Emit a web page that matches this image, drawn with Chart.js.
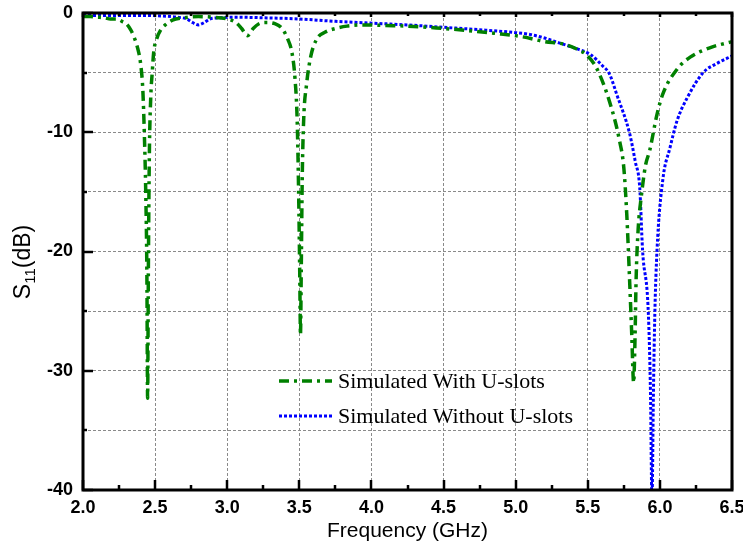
<!DOCTYPE html>
<html>
<head>
<meta charset="utf-8">
<script src="https://cdn.jsdelivr.net/npm/chart.js@4.4.0/dist/chart.umd.min.js"></script>
<style>
  html, body { margin: 0; padding: 0; background: #fff; }
</style>
</head>
<body>
<canvas id="chart" width="743" height="548"></canvas>
<script>
// S11 data
const seriesLabels = ["Simulated With U-slots", "Simulated Without U-slots"];

const freqWith = [2.00, 2.05, 2.10, 2.15, 2.19, 2.23, 2.27, 2.30, 2.33, 2.35, 2.38, 2.40, 2.415, 2.425,
  2.435, 2.443, 2.448, 2.453, 2.46, 2.47, 2.48, 2.49, 2.51, 2.54, 2.57, 2.62, 2.70, 2.80, 2.90, 3.00,
  3.06, 3.10, 3.14, 3.18, 3.22, 3.27, 3.33, 3.38, 3.42, 3.45, 3.47, 3.485, 3.495, 3.503, 3.508, 3.513,
  3.52, 3.53, 3.55, 3.58, 3.62, 3.68, 3.75, 3.83, 3.95, 4.10, 4.25, 4.45, 4.65, 4.85, 5.05, 5.20, 5.33,
  5.42, 5.49, 5.56, 5.65, 5.72, 5.75, 5.77, 5.79, 5.805, 5.818, 5.828, 5.835, 5.85, 5.87, 5.90, 5.93,
  5.98, 6.02, 6.12, 6.21, 6.35, 6.50];
const s11With = [-0.3, -0.3, -0.35, -0.4, -0.5, -0.5, -0.7, -0.9, -1.4, -1.9, -3.0, -4.3, -6.5, -10,
  -15, -22, -32.3, -22, -12, -7, -5, -3.3, -2.2, -1.4, -1.0, -0.6, -0.4, -0.3, -0.35, -0.5,
  -0.8, -1.3, -1.9, -1.3, -0.9, -0.8, -0.9, -1.3, -2.2, -3.4, -5.5, -9, -15, -22, -27, -22,
  -14, -9, -6, -3.6, -2.2, -1.6, -1.3, -1.1, -1.0, -1.05, -1.1, -1.25, -1.45, -1.7, -2.0, -2.4, -2.6,
  -3.0, -3.5, -4.6, -7.4, -10.7, -13, -16.8, -22.4, -27, -31, -27, -22.4, -18, -15.5, -12.8, -11.5,
  -8.5, -6.8, -4.7, -3.7, -2.9, -2.4];

const freqWithout = [2.00, 2.20, 2.40, 2.55, 2.65, 2.72, 2.76, 2.80, 2.84, 2.88, 2.95, 3.05, 3.25, 3.50,
  3.75, 4.00, 4.25, 4.50, 4.75, 5.00, 5.10, 5.20, 5.30, 5.40, 5.52, 5.60, 5.65, 5.70, 5.79, 5.83, 5.86,
  5.88, 5.92, 5.935, 5.945, 5.955, 5.965, 5.98, 6.02, 6.07, 6.12, 6.19, 6.30, 6.40, 6.50];
const s11Without = [-0.2, -0.2, -0.2, -0.25, -0.35, -0.5, -0.8, -1.0, -0.8, -0.5, -0.4, -0.35, -0.4, -0.5,
  -0.7, -0.85, -1.0, -1.2, -1.4, -1.65, -1.8, -2.1, -2.5, -2.9, -3.5, -4.4, -5.1, -6.8, -10.1, -12.5, -14.6,
  -19.9, -25.2, -32, -41, -32, -25.2, -19.9, -14, -11.3, -9, -7.1, -5.0, -4.2, -3.6];

const xMin = 2.0, xMax = 6.5, xStep = 0.5, xMinorStep = 0.25;
const yMin = -40, yMax = 0, yStep = 5, yLabelStep = 10;

const toPoints = (xs, ys) => xs.map((x, i) => ({ x: x, y: ys[i] }));

// frame, inward ticks, y title with subscript and the inset legend
const decorations = {
  id: "decorations",
  afterDraw(chart) {
    const ctx = chart.ctx;
    const a = chart.chartArea;
    const xs = chart.scales.x, ys = chart.scales.y;
    ctx.save();
    ctx.strokeStyle = "#000";
    ctx.lineWidth = 3;
    ctx.setLineDash([]);
    ctx.strokeRect(a.left, a.top, a.right - a.left, a.bottom - a.top);

    ctx.lineWidth = 2.5;
    for (let v = xMin; v <= xMax + 1e-9; v += xMinorStep) {
      const px = Math.round(xs.getPixelForValue(v));
      const major = Math.abs(v / xStep - Math.round(v / xStep)) < 1e-6;
      ctx.beginPath();
      ctx.moveTo(px, a.bottom);
      ctx.lineTo(px, a.bottom - (major ? 10 : 5));
      ctx.moveTo(px, a.top);
      ctx.lineTo(px, a.top + (major ? 4 : 3));
      ctx.stroke();
    }
    for (let v = yMin; v <= yMax; v += yStep) {
      const py = Math.round(ys.getPixelForValue(v));
      const major = v % yLabelStep === 0;
      ctx.beginPath();
      ctx.moveTo(a.left, py);
      ctx.lineTo(a.left + (major ? 10 : 4), py);
      ctx.stroke();
    }

    // y-axis title: S11(dB), 11 as subscript
    ctx.fillStyle = "#000";
    ctx.translate(24, 262);
    ctx.rotate(-Math.PI / 2);
    ctx.textBaseline = "middle";
    const big = "23px 'Liberation Sans', Arial, sans-serif";
    const small = "15px 'Liberation Sans', Arial, sans-serif";
    ctx.font = big;
    const wS = ctx.measureText("S").width;
    const wP = ctx.measureText("(dB)").width;
    ctx.font = small;
    const w11 = ctx.measureText("11").width;
    let x0 = -(wS + w11 + wP) / 2;
    ctx.font = big;
    ctx.fillText("S", x0, 0);
    ctx.font = small;
    ctx.fillText("11", x0 + wS, 7);
    ctx.font = big;
    ctx.fillText("(dB)", x0 + wS + w11, 0);
    ctx.restore();

    // legend
    ctx.save();
    const rows = [381, 416];
    chart.data.datasets.forEach((ds, i) => {
      ctx.strokeStyle = ds.borderColor;
      ctx.lineWidth = ds.borderWidth;
      ctx.setLineDash(ds.borderDash);
      ctx.beginPath();
      ctx.moveTo(279, rows[i]);
      ctx.lineTo(332, rows[i]);
      ctx.stroke();
      ctx.setLineDash([]);
      ctx.fillStyle = "#000";
      ctx.font = "22px 'Liberation Serif', 'Times New Roman', serif";
      ctx.textBaseline = "middle";
      ctx.fillText(ds.label, 338, rows[i] + 1);
    });
    ctx.restore();
  }
};

new Chart(document.getElementById("chart"), {
  type: "line",
  data: {
    datasets: [
      {
        label: seriesLabels[0],
        data: toPoints(freqWith, s11With),
        borderColor: "#008000",
        borderWidth: 3.5,
        borderDash: [10, 5, 3, 5],
        pointRadius: 0,
        cubicInterpolationMode: "monotone",
        fill: false
      },
      {
        label: seriesLabels[1],
        data: toPoints(freqWithout, s11Without),
        borderColor: "#0000ff",
        borderWidth: 3,
        borderDash: [3, 2],
        pointRadius: 0,
        cubicInterpolationMode: "monotone",
        fill: false
      }
    ]
  },
  options: {
    responsive: false,
    devicePixelRatio: 1,
    animation: false,
    layout: { padding: { top: 13, right: 11, left: 0, bottom: 0 } },
    plugins: { legend: { display: false }, tooltip: { enabled: false } },
    scales: {
      x: {
        type: "linear",
        min: xMin,
        max: xMax,
        grid: { color: "#8a8a8a", lineWidth: 1, drawTicks: false },
        border: { display: false, dash: [3, 2] },
        ticks: {
          stepSize: xStep,
          autoSkip: false,
          maxRotation: 0,
          padding: 7,
          color: "#000",
          font: { family: "'Liberation Sans', Arial, sans-serif", size: 18, weight: "bold" },
          callback: v => Number(v).toFixed(1)
        },
        title: {
          display: true,
          text: "Frequency (GHz)",
          color: "#000",
          font: { family: "'Liberation Sans', Arial, sans-serif", size: 21 },
          padding: { top: 0, bottom: 4 }
        },
        afterFit(scale) {
          scale.height = 58;
          scale.paddingLeft = 0;
          scale.paddingRight = 0;
        }
      },
      y: {
        min: yMin,
        max: yMax,
        grid: { color: "#8a8a8a", lineWidth: 1, drawTicks: false },
        border: { display: false, dash: [3, 2] },
        ticks: {
          stepSize: yStep,
          autoSkip: false,
          padding: 10,
          color: "#000",
          font: { family: "'Liberation Sans', Arial, sans-serif", size: 18, weight: "bold" },
          callback: v => (v % yLabelStep === 0 ? String(v) : "")
        },
        afterFit(scale) {
          scale.width = 83;
          scale.paddingTop = 0;
          scale.paddingBottom = 0;
        }
      }
    }
  },
  plugins: [decorations]
});
</script>
</body>
</html>
